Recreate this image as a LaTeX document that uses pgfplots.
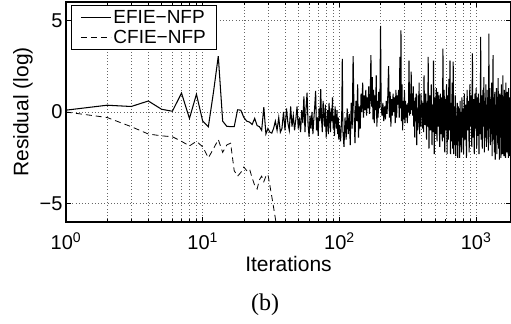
\documentclass[border=0pt]{standalone}
\usepackage{fontspec}
\setmainfont{Liberation Sans}
\newfontfamily\capfont{Liberation Serif}
\usepackage{pgfplots}
\pgfplotsset{compat=1.18}
\begin{document}
\begin{tikzpicture}
\begin{axis}[
  scale only axis, width=445bp, height=220bp,
  xmode=log, log basis x=10,
  xmin=1, xmax=1800, ymin=-6, ymax=6,
  xtick={1,10,100,1000},
  minor xtick={2,3,4,5,6,7,8,9,20,30,40,50,60,70,80,90,200,300,400,500,600,700,800,900},
  xticklabels={10\textsuperscript{0},10\textsuperscript{1},10\textsuperscript{2},10\textsuperscript{3}},
  ytick={-5,0,5}, yticklabels={−5,0,5},
  xtick pos=both, ytick pos=both,
  tick align=inside,
  major tick length=5bp, minor tick length=3bp,
  every tick/.style={black, line width=0.6bp},
  xmajorgrids, xminorgrids, ymajorgrids,
  grid style={black!60, line width=0.5bp, dash pattern=on 0.7bp off 2.5bp},
  minor grid style={black!60, line width=0.5bp, dash pattern=on 0.7bp off 2.5bp},
  axis line style={black, line width=1.2bp},
  tick label style={font=\fontsize{20bp}{23bp}\selectfont},
  xticklabel style={yshift=-7bp},
  xlabel={Iterations}, ylabel={Residual (log)},
  every axis x label/.style={at={(axis description cs:0.5,0)}, anchor=north, yshift=-31bp, font=\fontsize{21bp}{24bp}\selectfont},
  every axis y label/.style={at={(axis description cs:-0.097,0.5)}, rotate=90, anchor=center, font=\fontsize{21bp}{24bp}\selectfont},
  legend style={at={(axis description cs:0.011,0.986)}, anchor=north west,
    draw=black, line width=1bp, fill=white,
    font=\fontsize{19bp}{21bp}\selectfont, inner xsep=9bp, inner ysep=3bp, row sep=1bp},
  legend cell align=left,
  legend image code/.code={\draw[#1] (0bp,0bp) -- (30bp,0bp);},
]
\addplot[black, line width=1.05bp] table {
x y
1 0.1
2 0.37
3 0.3
4 0.6
5 0.15
6 0.04
7 1.03
8 -0.35
9 0.97
10 -0.5
11 -0.8
12 1.1
13 3.05
14 -0.5
15 -0.78
16 -0.8
17 -0.8
18 0.12
19 0.1
20 -0.3
21 -0.5
22 -0.55
23 -0.68
24 -0.35
25 -0.74
26 -0.8
27 -1.0
28 0.27
29 -1.2
30 -0.9
31 -1.1
32 -1.15
33 -0.9
34 -0.5
35 -1.0
36 -0.3
37 -1.1
38 -0.9
39 0.0
40 -1.0
41 0.2
42 -0.6
43 -1.0
44 0.3
45 -0.8
46 -0.2
47 -1.0
48 -0.4
49 0.3
50 -0.9
51 -0.3
52 -1.1
53 0.1
54 -0.6
55 0.85
56 -1.1
57 0.2
58 1.05
59 -0.7
60 -1.35
61 -0.2
62 -0.9
63 0.0
64 -1.2
65 -0.4
66 0.3
67 1.15
68 -1.0
69 -0.3
70 -1.3
71 0.2
72 -0.5
73 1.25
74 -0.4
75 -1.1
76 0.6
77 -0.2
78 -0.8
79 0.4
80 -1.4
81 -0.6
82 0.1
83 -1.2
84 0.5
85 -0.3
86 -1.1
87 0.2
88 -0.5
89 0.8
90 -0.9
91 -0.2
92 -1.3
93 0.3
94 -0.4
95 -0.9
96 0.1
97 -1.2
98 -0.3
99 -1.5
100 -0.7
102 -1.6
104 -0.2
105 2.9
106 -1.0
108 -1.9
110 -0.3
112 -1.5
114 0.2
116 -1.2
118 -0.1
120 -1.8
122 0.5
124 -0.9
126 3.05
128 -0.2
130 -1.7
132 0.6
134 -0.5
136 1.5
138 -1.4
140 0.3
142 -0.9
144 1.0
146 0.0
148 1.6
150 -0.3
152 0.9
154 0.1
156 1.2
158 -0.2
160 0.8
162 0.2
164 1.4
166 -0.1
168 0.7
170 3.1
172 0.3
174 1.9
176 -0.4
178 1.2
180 -0.6
182 0.9
184 0.1
186 2.0
188 -0.8
190 0.6
192 -0.3
194 1.1
196 0.2
198 0.8
200 4.7
202 0.3
205 -0.2
208 0.5
211 -0.5
214 0.3
217 -0.4
220 0.6
223 -0.1
226 0.9
229 2.5
232 -0.3
235 1.1
238 -0.8
241 0.7
244 -0.2
247 1.0
250 0.0
253 0.8
256 -0.6
259 1.2
262 -0.3
265 0.9
268 0.4
271 1.2
274 -0.3
277 3.0
280 0.2
282 4.45
284 -0.5
287 1.5
290 -1.0
293 0.6
296 -0.4
299 1.2
302 -0.6
305 0.6
308 -0.3
311 0.4
314 -0.6
317 0.5
320 0.0
323 2.8
326 -0.2
329 1.0
332 -0.1
335 2.2
338 0.1
341 1.0
344 -0.2
347 1.4
350 -0.8
353 0.6
356 -1.4
359 0.8
362 -0.5
365 1.0
368 -1.8
371 0.2
374 -1.0
377 0.9
380 -0.6
383 1.6
386 -1.2
389 0.4
392 -0.8
395 1.0
398 -0.3
401 0.6
404 -0.9
407 -0.2
410 0.5
413 -1.1
416 2.0
419 0.1
422 -0.7
425 0.3
428 1.0
431 -0.4
434 -1.5
437 0.2
440 0.6
443 -0.8
446 3.0
449 0.4
452 -2.0
455 -0.5
458 0.9
461 -0.3
464 -1.0
467 0.5
470 1.5
473 -0.6
476 -1.8
479 0.1
482 0.4
485 -1.1
488 2.8
491 0.2
494 -2.3
497 -0.4
500 0.8
503 -0.2
506 -1.2
509 0.6
512 1.3
515 -0.7
518 -1.6
521 0.3
524 1.1
527 -0.3
530 -0.8
533 0.9
536 0.6
539 -1.0
542 -1.9
545 0.2
548 1.0
551 -0.5
554 -1.2
557 0.8
560 0.4
563 -0.9
566 -1.6
569 0.5
572 3.45
575 0.0
578 -1.4
581 0.4
584 1.2
587 -0.8
590 -2.2
593 0.1
596 0.7
599 -1.0
602 -0.6
605 0.8
608 1.5
611 -0.9
614 -2.3
617 0.2
620 0.9
623 -0.7
626 -1.5
629 0.4
632 1.8
635 -0.3
638 -1.0
641 0.6
644 2.8
647 -0.6
650 -2.3
653 -0.2
656 0.5
659 -1.1
662 -1.6
665 0.3
668 1.6
671 -0.8
674 -2.0
677 0.1
680 2.75
683 -0.9
686 -2.3
689 -0.5
692 0.3
695 -1.3
698 -1.8
701 0.0
704 0.9
707 -1.0
710 -2.4
713 -0.6
716 -0.2
719 -1.8
722 -1.2
725 0.2
728 0.5
731 -1.4
734 -2.5
737 -0.4
740 0.3
743 -1.0
746 -1.6
749 -0.2
752 0.2
755 -1.3
758 -2.5
761 -0.5
764 0.6
767 -0.9
770 -1.8
773 0.0
776 -0.1
779 -1.5
782 -2.2
785 -0.3
788 0.8
791 -0.7
794 -1.4
797 -0.2
800 0.2
805 -1.0
810 -2.3
815 -0.2
820 1.0
825 -0.6
830 -1.5
835 0.1
840 0.4
845 -1.3
850 -2.5
855 0.0
860 1.2
865 -0.4
870 -1.0
875 0.3
880 0.6
885 -1.0
890 -2.2
895 0.2
900 1.5
905 -0.4
910 -0.8
915 0.5
920 0.9
925 -1.1
930 -1.9
935 0.4
940 3.2
945 -0.6
950 -1.4
955 0.2
960 0.7
965 -1.2
970 -2.3
975 -0.1
980 1.0
985 -0.9
990 -0.6
995 0.4
1000 1.3
1005 -0.8
1010 -2.0
1015 0.1
1020 0.8
1025 -0.6
1030 -1.3
1035 0.3
1040 1.0
1045 -1.0
1050 -2.3
1055 -0.2
1060 0.5
1065 -0.5
1070 -1.2
1075 0.6
1080 4.1
1085 -0.4
1090 -1.5
1095 0.2
1100 0.9
1105 -1.0
1110 -2.0
1115 0.0
1120 1.2
1125 -0.3
1130 -0.8
1135 0.6
1140 1.9
1145 -0.7
1150 -2.2
1155 0.1
1160 0.6
1165 -0.8
1170 -1.4
1175 0.4
1180 1.5
1185 -0.5
1190 -1.9
1195 -0.2
1200 0.4
1205 -0.6
1210 -1.0
1215 0.5
1220 1.2
1225 -0.9
1230 -2.1
1235 0.3
1240 4.27
1245 0.0
1250 -0.9
1255 0.4
1260 1.3
1265 -0.8
1270 -1.8
1275 0.0
1280 0.7
1285 -0.5
1290 -1.2
1295 0.5
1300 1.6
1305 -0.9
1310 -2.4
1315 -0.2
1320 0.5
1325 -0.3
1330 3.1
1335 -0.4
1340 -1.5
1345 0.1
1350 0.8
1355 -1.1
1360 -2.2
1365 0.0
1370 1.1
1375 -1.0
1380 -2.6
1385 -0.5
1390 0.4
1395 -0.4
1400 -1.0
1405 0.5
1410 1.3
1415 -0.9
1420 -2.3
1425 -0.1
1430 0.6
1435 -0.6
1440 -1.4
1445 0.4
1450 1.85
1455 -0.8
1460 -2.0
1465 -0.3
1470 0.3
1475 -1.2
1480 -2.6
1485 0.0
1490 1.0
1495 -0.4
1500 -1.2
1505 0.2
1510 0.9
1515 -1.0
1520 -2.5
1525 0.1
1530 1.5
1535 -0.3
1540 -1.0
1545 0.3
1550 0.4
1555 -1.2
1560 -2.3
1565 0.2
1570 2.0
1575 -0.5
1580 -1.6
1585 0.1
1590 0.7
1595 -1.0
1600 -2.4
1605 -0.1
1610 1.2
1615 -0.4
1620 -0.9
1625 0.2
1630 0.5
1635 -1.1
1640 -2.5
1645 0.0
1650 1.6
1655 -0.6
1660 -1.3
1665 0.3
1670 0.2
1675 -1.0
1680 -2.2
1685 -0.1
1690 1.1
1695 -0.7
1700 -1.7
1705 0.0
1710 0.6
1715 -1.2
1720 -2.5
1725 0.2
1730 1.3
1735 -0.3
1740 -1.1
1745 0.4
1750 0.8
1755 -1.0
1760 -2.4
1765 -0.2
1770 0.4
1775 -0.6
1780 -1.5
1785 0.3
1790 1.0
1795 -0.9
1800 -2.0
};
\addlegendentry{EFIE−NFP}
\addplot[black, line width=0.8bp, dash pattern=on 6bp off 4bp] table {
x y
1 0
2 -0.3
3 -0.8
4 -1.2
5 -1.3
6 -1.35
7 -1.6
8 -1.85
9 -1.6
10 -1.9
11 -2.5
12 -2.0
13 -1.5
14 -2.2
15 -1.8
16 -1.7
17 -3.2
18 -3.5
19 -3.3
20 -3.0
21 -3.2
22 -3.1
23 -3.6
24 -4.0
25 -4.2
26 -3.7
27 -3.5
28 -3.8
29 -3.5
30 -3.4
31 -4.0
32 -4.6
33 -5.2
34 -5.8
35 -6.4
};
\addlegendentry{CFIE−NFP}
\end{axis}
\node[font=\capfont\fontsize{24bp}{28bp}\selectfont] at ([xshift=199bp,yshift=-83bp]current axis.south west) {(b)};
\pgfresetboundingbox
\path[use as bounding box] ([xshift=-66bp,yshift=-102bp]current axis.south west) rectangle ([xshift=0bp,yshift=2bp]current axis.north east);
\end{tikzpicture}
\end{document}
